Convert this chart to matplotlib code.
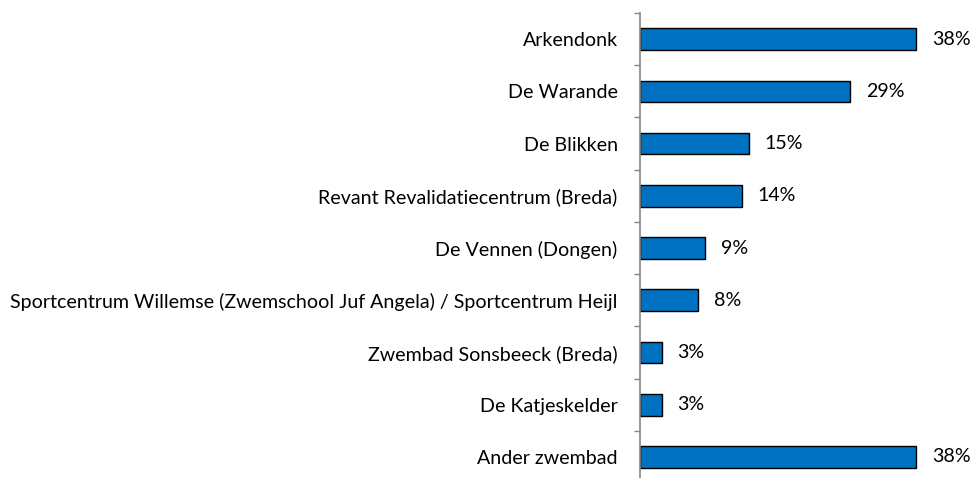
import matplotlib
matplotlib.use("Agg")
import matplotlib.pyplot as plt
import numpy as np

categories = [
    "Arkendonk",
    "De Warande",
    "De Blikken",
    "Revant Revalidatiecentrum (Breda)",
    "De Vennen (Dongen)",
    "Sportcentrum Willemse (Zwemschool Juf Angela) / Sportcentrum Heijl",
    "Zwembad Sonsbeeck (Breda)",
    "De Katjeskelder",
    "Ander zwembad",
]
values = [38, 29, 15, 14, 9, 8, 3, 3, 38]
labels = ["38%", "29%", "15%", "14%", "9%", "8%", "3%", "3%", "38%"]

plt.rcParams['font.family'] = ['Lato', 'DejaVu Sans']
FS = 14.1

fig = plt.figure(figsize=(9.71, 4.78), dpi=100)
ax = fig.add_axes([0.659, -0.0105, 0.299, 0.9833])

n = len(categories)
y = np.arange(n)
ax.barh(y, values, height=0.415, color="#0070C0", edgecolor="black", linewidth=1.0)
ax.set_ylim(n - 0.5, -0.5)
ax.set_xlim(0, 40)

ax.set_yticks(y)
ax.set_yticklabels(categories, fontsize=FS)
ax.set_yticks(np.arange(-0.5, n, 1.0), minor=True)
ax.tick_params(axis='y', which='major', length=0, pad=16)
ax.tick_params(axis='y', which='minor', length=4.3, color="#868686", width=1)
ax.set_xticks([])

for s in ['top', 'right', 'bottom']:
    ax.spines[s].set_visible(False)
ax.spines['left'].set_color("#868686")
ax.spines['left'].set_linewidth(1.2)

for yi, v, lab in zip(y, values, labels):
    ax.annotate(lab, (v, yi), xytext=(11.5, 0), textcoords='offset points',
                va='center', ha='left', fontsize=FS)

fig.savefig("out.png", dpi=100)
